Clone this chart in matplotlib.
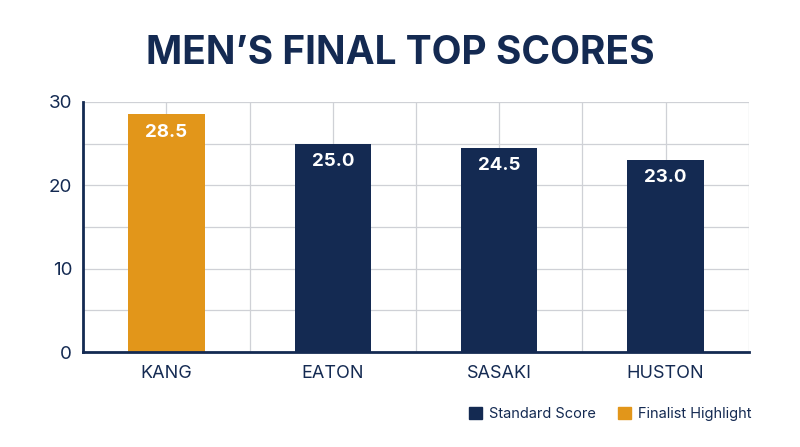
import matplotlib.pyplot as plt
from matplotlib.patches import Patch
from matplotlib.ticker import MultipleLocator

players = ["KANG", "EATON", "SASAKI", "HUSTON"]
scores = [28.5, 25.0, 24.5, 23.0]
highlight = [True, False, False, False]

navy = "#142a52"
orange = "#e2961a"
plt.rcParams['font.family'] = ['Inter', 'DejaVu Sans']

fig = plt.figure(figsize=(8, 4.47), dpi=100)
ax = fig.add_axes([0.104, 0.2125, 0.832, 0.5595])

colors = [orange if h else navy for h in highlight]
x = list(range(len(players)))
ax.bar(x, scores, width=0.46, color=colors, zorder=3)

# value labels inside the top of each bar
for i, s in enumerate(scores):
    ax.text(i, s - 1.1, f"{s:.1f}", ha='center', va='top', color='white',
            fontsize=13.5, fontweight='bold', zorder=4)

ax.set_xlim(-0.5, 3.5)
ax.set_ylim(0, 30)
ax.set_xticks(x)
ax.set_xticklabels(players)
ax.xaxis.set_minor_locator(MultipleLocator(0.5))
ax.yaxis.set_major_locator(MultipleLocator(10))
ax.yaxis.set_minor_locator(MultipleLocator(5))
ax.grid(True, which='both', color='#cfd1d6', linewidth=0.9, zorder=0)
ax.tick_params(which='both', length=0)
ax.tick_params(axis='x', labelsize=13, colors=navy, pad=9)
ax.tick_params(axis='y', labelsize=13.5, colors=navy, pad=8)

for side in ['top', 'right']:
    ax.spines[side].set_visible(False)
for side in ['left', 'bottom']:
    ax.spines[side].set_color(navy)
    ax.spines[side].set_linewidth(2)
    ax.spines[side].set_zorder(5)

fig.text(0.5, 0.88, "MEN’S FINAL TOP SCORES", ha='center', va='center',
         fontsize=28, fontweight='bold', color=navy)

handles = [Patch(color=navy, label="Standard Score"),
           Patch(color=orange, label="Finalist Highlight")]
fig.legend(handles=handles, loc='center right', bbox_to_anchor=(0.956, 0.073),
           ncol=2, frameon=False, fontsize=10.5, labelcolor=navy,
           handlelength=0.9, handleheight=0.9, handletextpad=0.5, columnspacing=1.5)

plt.savefig('out.png')
